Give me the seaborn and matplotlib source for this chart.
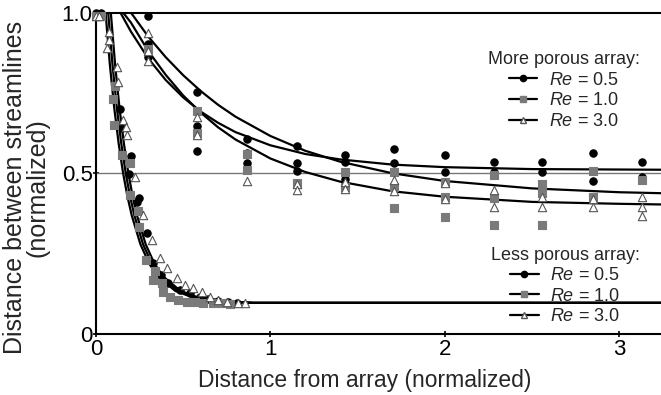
import numpy as np
import pandas as pd
import matplotlib
matplotlib.use("Agg")
import matplotlib.pyplot as plt
from matplotlib.lines import Line2D
import seaborn as sns

# ---------------- data ----------------
# Less porous array: measured points
lp05_x = [0.03, 0.138, 0.149, 0.19, 0.20, 0.235, 0.247, 0.293, 0.327, 0.373, 0.413, 0.482, 0.539, 0.597, 0.643, 0.70, 0.757, 0.809]
lp05_y = [1.00, 0.70, 0.64, 0.498, 0.555, 0.411, 0.424, 0.315, 0.221, 0.184, 0.159, 0.137, 0.128, 0.115, 0.109, 0.103, 0.100, 0.097]
lp10_x = [0.03, 0.10, 0.103, 0.109, 0.149, 0.195, 0.195, 0.241, 0.247, 0.287, 0.327, 0.338, 0.379, 0.384, 0.425, 0.47, 0.522, 0.568, 0.614, 0.671, 0.723, 0.769]
lp10_y = [0.99, 0.73, 0.65, 0.77, 0.558, 0.533, 0.433, 0.383, 0.333, 0.23, 0.168, 0.196, 0.159, 0.131, 0.115, 0.106, 0.100, 0.100, 0.097, 0.097, 0.097, 0.094]
lp30_x = [0.02, 0.063, 0.075, 0.075, 0.12, 0.126, 0.155, 0.172, 0.178, 0.224, 0.27, 0.321, 0.367, 0.407, 0.465, 0.511, 0.557, 0.608, 0.654, 0.70, 0.75, 0.815, 0.855]
lp30_y = [0.99, 0.89, 0.916, 0.94, 0.83, 0.785, 0.667, 0.645, 0.62, 0.489, 0.371, 0.293, 0.237, 0.206, 0.174, 0.153, 0.143, 0.131, 0.115, 0.105, 0.100, 0.097, 0.097]

# More porous array: measured points
mp05_x = [0.0, 0.3, 0.3, 0.3, 0.58, 0.58, 0.58, 0.866, 0.866, 0.866, 1.15, 1.15, 1.15, 1.43, 1.43, 1.43, 1.71, 1.71, 2.0, 2.0, 2.28, 2.28, 2.56, 2.56, 2.85, 2.85, 3.13, 3.13]
mp05_y = [1.0, 0.99, 0.903, 0.862, 0.752, 0.648, 0.57, 0.607, 0.564, 0.533, 0.586, 0.533, 0.508, 0.558, 0.536, 0.483, 0.576, 0.533, 0.558, 0.505, 0.536, 0.505, 0.536, 0.505, 0.564, 0.477, 0.536, 0.489]
mp10_x = [0.0, 0.3, 0.58, 0.58, 0.866, 0.866, 1.15, 1.43, 1.43, 1.71, 1.71, 1.71, 2.0, 2.0, 2.0, 2.28, 2.28, 2.28, 2.56, 2.56, 2.56, 2.85, 2.85, 3.13]
mp10_y = [0.99, 0.885, 0.695, 0.626, 0.56, 0.511, 0.47, 0.505, 0.458, 0.505, 0.458, 0.392, 0.474, 0.427, 0.364, 0.495, 0.424, 0.34, 0.467, 0.439, 0.34, 0.508, 0.427, 0.48]
mp30_x = [0.0, 0.3, 0.3, 0.3, 0.58, 0.58, 0.866, 1.15, 1.15, 1.43, 1.43, 1.71, 1.71, 2.0, 2.0, 2.28, 2.28, 2.56, 2.56, 2.85, 2.85, 3.13, 3.13, 3.13]
mp30_y = [0.99, 0.937, 0.88, 0.85, 0.675, 0.62, 0.477, 0.467, 0.449, 0.473, 0.452, 0.48, 0.446, 0.47, 0.42, 0.449, 0.396, 0.427, 0.396, 0.42, 0.396, 0.427, 0.396, 0.368]

# Fitted curves
fit_mp05_x = [0.14, 0.2, 0.3, 0.4, 0.5, 0.6, 0.7, 0.8, 1.0, 1.2, 1.4, 1.7, 2.0, 2.5, 3.24]
fit_mp05_y = [1.0, 0.941, 0.857, 0.790, 0.736, 0.692, 0.657, 0.628, 0.587, 0.560, 0.543, 0.527, 0.519, 0.513, 0.511]
fit_mp10_x = [0.2, 0.3, 0.4, 0.5, 0.6, 0.7, 0.8, 1.0, 1.2, 1.4, 1.7, 2.0, 2.5, 3.0, 3.24]
fit_mp10_y = [1.0, 0.925, 0.861, 0.805, 0.756, 0.713, 0.676, 0.616, 0.570, 0.536, 0.500, 0.476, 0.453, 0.441, 0.438]
fit_mp30_x = [0.155, 0.2, 0.3, 0.4, 0.5, 0.6, 0.7, 0.8, 1.0, 1.2, 1.4, 1.7, 2.0, 2.5, 3.0, 3.24]
fit_mp30_y = [1.0, 0.969, 0.880, 0.806, 0.742, 0.689, 0.643, 0.605, 0.546, 0.504, 0.474, 0.444, 0.427, 0.411, 0.405, 0.403]

fit_lp_y = [1.0, 0.836, 0.702, 0.593, 0.502, 0.429, 0.369, 0.279, 0.219, 0.179, 0.134, 0.114, 0.100, 0.097, 0.097]
fit_lp10_x = [0.055, 0.08, 0.105, 0.13, 0.155, 0.18, 0.205, 0.255, 0.305, 0.355, 0.455, 0.555, 0.755, 0.9, 3.24]
fit_lp05_x = [0.07, 0.095, 0.12, 0.145, 0.17, 0.195, 0.22, 0.27, 0.32, 0.37, 0.47, 0.57, 0.77, 0.9, 3.24]
fit_lp30_x = [0.085, 0.11, 0.135, 0.16, 0.185, 0.21, 0.235, 0.285, 0.335, 0.385, 0.485, 0.585, 0.785, 0.9, 3.24]

re_labels = ["$Re$ = 0.5", "$Re$ = 1.0", "$Re$ = 3.0"]
x_ticks = [0, 1, 2, 3]
y_ticks = [0, 0.5, 1.0]
y_ticklabels = ["0", "0.5", "1.0"]

# ---------------- style ----------------
sns.set_style("ticks")
plt.rcParams["font.family"] = ["Liberation Sans", "DejaVu Sans"]
plt.rcParams["mathtext.fontset"] = "custom"
plt.rcParams["mathtext.it"] = "Liberation Sans:italic"
plt.rcParams["mathtext.rm"] = "Liberation Sans"

fig = plt.figure(figsize=(6.61, 3.95), dpi=100)
ax = fig.add_axes([0.1452, 0.1544, 0.8548, 0.8139])

GREY = "#7a7a7a"
styles = [
    dict(marker="o", color="black", edgecolor="black", s=28),
    dict(marker="s", color=GREY, edgecolor=GREY, s=28),
    dict(marker="^", color="white", edgecolor="#555555", s=36),
]

# reference line at 0.5
ax.axhline(0.5, color="#777777", lw=1.0, zorder=1)

# curves
curves = [
    (fit_mp05_x, fit_mp05_y), (fit_mp10_x, fit_mp10_y), (fit_mp30_x, fit_mp30_y),
    (fit_lp05_x, fit_lp_y), (fit_lp10_x, fit_lp_y), (fit_lp30_x, fit_lp_y),
]
for cx, cy in curves:
    df = pd.DataFrame({"x": cx, "y": cy})
    sns.lineplot(data=df, x="x", y="y", ax=ax, color="black", lw=1.6, sort=False,
                 estimator=None, zorder=2)

# points
groups = [
    (mp05_x, mp05_y, 0), (mp10_x, mp10_y, 1), (mp30_x, mp30_y, 2),
    (lp05_x, lp05_y, 0), (lp10_x, lp10_y, 1), (lp30_x, lp30_y, 2),
]
for px, py, k in groups:
    df = pd.DataFrame({"x": px, "y": py})
    st = styles[k]
    sns.scatterplot(data=df, x="x", y="y", ax=ax, marker=st["marker"], color=st["color"],
                    edgecolor=st["edgecolor"], s=st["s"], linewidth=0.8, zorder=3,
                    clip_on=False, legend=False)

ax.set_xlim(0, 3.24)
ax.set_ylim(0, 1.0)
ax.set_xticks(x_ticks)
ax.set_xticklabels([str(t) for t in x_ticks], fontsize=16)
ax.set_yticks(y_ticks)
ax.set_yticklabels(y_ticklabels, fontsize=16)
ax.tick_params(axis="both", direction="inout", length=5, width=1.2, colors="black")
ax.tick_params(axis="x", pad=1)
ax.tick_params(axis="y", pad=0)
ax.set_xlabel("Distance from array (normalized)", fontsize=16.5)
ax.xaxis.set_label_coords(0.475, -0.108)
ax.set_ylabel("Distance between streamlines\n(normalized)", fontsize=18, linespacing=0.92)
ax.yaxis.set_label_coords(-0.083, 0.455)

for side in ["left", "bottom", "top"]:
    ax.spines[side].set_visible(True)
    ax.spines[side].set_color("black")
    ax.spines[side].set_linewidth(1.5)
ax.spines["right"].set_visible(False)

# legends
def handles():
    h = []
    for st in styles:
        h.append(Line2D([0], [0], color="black", lw=1.6, marker=st["marker"],
                        markerfacecolor=st["color"], markeredgecolor=st["edgecolor"],
                        markersize=4.5))
    return h

common = dict(frameon=False, fontsize=13, title_fontsize=13, loc="upper center",
              handlelength=1.6, handletextpad=0.65, labelspacing=0.2, borderpad=0.0,
              borderaxespad=0.0)
leg1 = ax.legend(handles(), re_labels, title="More porous array:",
                 bbox_to_anchor=(0.828, 0.88), **common)
ax.add_artist(leg1)
leg2 = ax.legend(handles(), re_labels, title="Less porous array:",
                 bbox_to_anchor=(0.83, 0.272), **common)

fig.savefig("out.png", dpi=100)
